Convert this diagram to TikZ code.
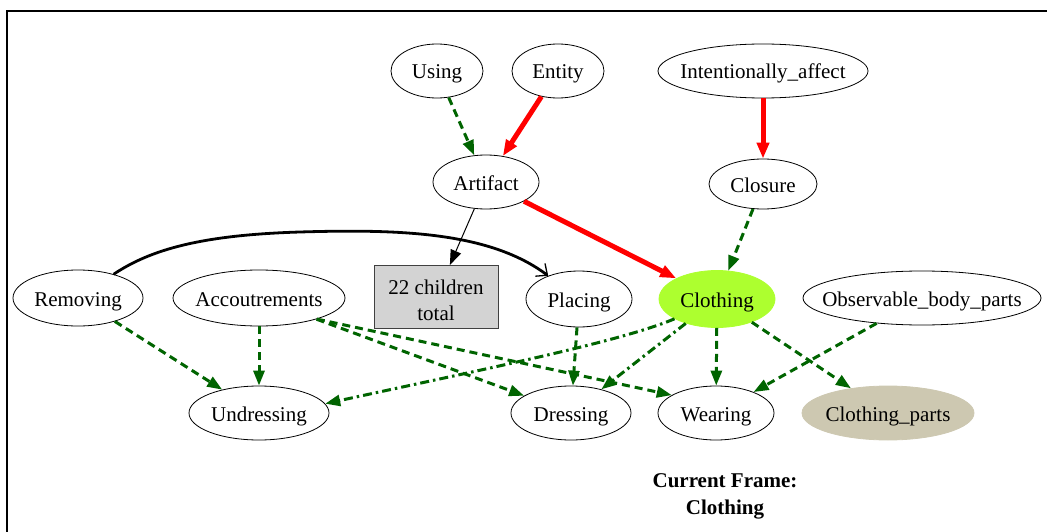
\documentclass[tikz,border=0pt]{standalone}
\usepackage{fontspec}
\setmainfont{Liberation Serif}
\usetikzlibrary{shapes.geometric,arrows.meta}
\definecolor{dgreen}{HTML}{006400}
\definecolor{gyellow}{HTML}{ADFF2F}
\definecolor{partsfill}{HTML}{CDC8B1}
\definecolor{boxfill}{HTML}{D3D3D3}
% label that does not widen its ellipse
\newcommand{\lbl}[1]{\makebox[0pt]{#1}}
% line lowered a little inside its own box
\newcommand{\lowline}[1]{\raisebox{-3pt}[\height][\depth]{#1}}
\begin{document}
\begin{tikzpicture}[x=1pt,y=-1pt,
  frame/.style={ellipse, draw=black, line width=0.8pt, inner sep=0pt,
    text height=16pt, text depth=0pt,
    font=\fontsize{21}{24}\selectfont},
  curframe/.style={frame, draw=gyellow, fill=gyellow},
  partsframe/.style={frame, draw=partsfill, fill=partsfill},
  countbox/.style={rectangle, draw=black!75, line width=1pt, fill=boxfill,
    align=center, inner sep=0pt, font=\fontsize{21}{26}\selectfont},
  titletext/.style={align=center, font=\fontsize{21}{27}\selectfont\bfseries},
  gdash/.style={draw=dgreen, line width=3pt, dash pattern=on 8pt off 5pt,
    -{Triangle[length=15pt,width=11pt]}},
  gdashdot/.style={draw=dgreen, line width=3pt,
    dash pattern=on 9pt off 4pt on 2.5pt off 4pt,
    -{Triangle[length=15pt,width=11pt]}},
  inherit/.style={draw=red, line width=5pt, -{Triangle[length=16pt,width=12pt]}},
  childlink/.style={draw=black, line width=1pt, -{Triangle[length=15pt,width=11pt]}},
  seealso/.style={draw=black, line width=2.8pt,
    -{Straight Barb[length=9pt,width=16pt,line width=1.3pt]}}
]
\useasboundingbox (0,0) rectangle (1047,532);

% outer frame
\draw[line width=2.4pt] (7,532) -- (7,11) -- (1047,11);

% top row
\node[frame, minimum width=92, minimum height=54]  (using)  at (437,71) {\lbl{Using}};
\node[frame, minimum width=92, minimum height=54]  (entity) at (558,71) {\lbl{Entity}};
\node[frame, minimum width=210, minimum height=54] (intent) at (763,71) {\lbl{Intentionally\_affect}};

% second row
\node[frame, minimum width=106, minimum height=54] (artifact) at (486,182) {\lbl{Artifact}};
\node[frame, minimum width=108, minimum height=50] (closure)  at (763,184) {\lbl{Closure}};

% middle row
\node[frame, minimum width=130, minimum height=56] (removing) at (78,298) {\lbl{Removing}};
\node[frame, minimum width=172, minimum height=56] (accout)   at (259,298) {\lbl{Accoutrements}};
\node[countbox, minimum width=124, minimum height=63] (box) at (436,297)
  {\lowline{22 children}\\\lowline{total}};
\node[frame, minimum width=106, minimum height=56] (placing)  at (579,299) {\lbl{Placing}};
\node[curframe, minimum width=116, minimum height=57] (clothing) at (717,299) {\lbl{Clothing}};
\node[frame, minimum width=238, minimum height=54] (obs) at (922,298) {\lbl{Observable\_body\_parts}};

% bottom row
\node[frame, minimum width=140, minimum height=54] (undressing) at (259,413) {\lbl{Undressing}};
\node[frame, minimum width=120, minimum height=54] (dressing)   at (571,413) {\lbl{Dressing}};
\node[frame, minimum width=116, minimum height=54] (wearing)    at (716,413) {\lbl{Wearing}};
\node[partsframe, minimum width=172, minimum height=54] (cparts) at (888,413) {\lbl{Clothing\_parts}};

% caption
\node[titletext] (title) at (725,496) {Current Frame:\\Clothing};

% relations
\draw[gdash] (using) -- (artifact);
\draw[inherit] (entity) -- (artifact);
\draw[inherit] (intent) -- (closure);
\draw[childlink] (artifact) -- (box);
\draw[inherit] (artifact) -- (clothing);
\draw[gdash] (closure) -- (clothing);
\draw[seealso] (removing) .. controls (150,250) and (200,235) .. (300,232)
  .. controls (400,229) and (490,232) .. (placing);
\draw[gdash] (removing) -- (undressing);
\draw[gdash] (accout) -- (undressing);
\draw[gdash] (accout) -- (dressing);
\draw[gdash] (accout.-20) -- (wearing.158);
\draw[gdashdot] (clothing.205) .. controls (620,342) and (480,370) .. (undressing.8);
\draw[gdashdot] (clothing) -- (dressing);
\draw[gdash] (placing) -- (dressing);
\draw[gdash] (clothing) -- (wearing);
\draw[gdash] (clothing) -- (cparts);
\draw[gdash] (obs) -- (wearing);
\end{tikzpicture}
\end{document}
